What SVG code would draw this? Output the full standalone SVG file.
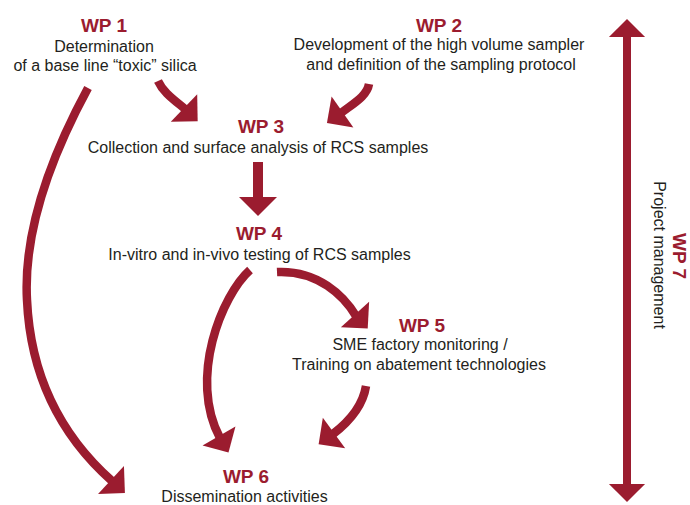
<svg xmlns="http://www.w3.org/2000/svg" xmlns:xlink="http://www.w3.org/1999/xlink" width="690" height="505" viewBox="0 0 690 505">
  <style>
    .wp { font-family: "Liberation Sans", Arial, sans-serif; font-weight: bold; font-size: 19px; fill: #9b1c2f; text-anchor: middle; }
    .t { font-family: "Liberation Sans", Arial, sans-serif; font-size: 16px; fill: #231f20; text-anchor: middle; }
    .shaft { fill: none; stroke: #9b1c2f; stroke-width: 8.5; stroke-linecap: butt; }
    .head { fill: #9b1c2f; }
  </style>
  <defs>
    <path id="head" d="M0,-19 L19,0 L0,19 Z"/>
  </defs>
  <rect width="690" height="505" fill="#ffffff"/>

  <g id="wp1">
    <text class="wp" x="104" y="32">WP 1</text>
    <text class="t" x="104" y="52">Determination</text>
    <text class="t" x="105" y="71">of a base line “toxic” silica</text>
  </g>
  <g id="wp2">
    <text class="wp" x="439" y="32">WP 2</text>
    <text class="t" x="439" y="50">Development of the high volume sampler</text>
    <text class="t" x="441" y="69.5">and definition of the sampling protocol</text>
  </g>
  <g id="wp3">
    <text class="wp" x="261" y="132.5">WP 3</text>
    <text class="t" x="258" y="152.5">Collection and surface analysis of RCS samples</text>
  </g>
  <g id="wp4">
    <text class="wp" x="259" y="240">WP 4</text>
    <text class="t" x="259.5" y="259.5">In-vitro and in-vivo testing of RCS samples</text>
  </g>
  <g id="wp5">
    <text class="wp" x="422" y="331.5">WP 5</text>
    <text class="t" x="420" y="350">SME factory monitoring /</text>
    <text class="t" x="419" y="370">Training on abatement technologies</text>
  </g>
  <g id="wp6">
    <text class="wp" x="246" y="482.5">WP 6</text>
    <text class="t" x="244.5" y="501.5">Dissemination activities</text>
  </g>
  <g id="wp7">
    <text class="wp" transform="translate(673,256) rotate(90)">WP 7</text>
    <text class="t" transform="translate(654,255) rotate(90)">Project management</text>
  </g>

  <g id="connectors">
    <!-- WP1 -> WP3 -->
    <path class="shaft" d="M158,81 C163,92 173,99 185,109"/>
    <use href="#head" xlink:href="#head" class="head" transform="translate(184,108) rotate(44)"/>
    <!-- WP2 -> WP3 -->
    <path class="shaft" d="M369,84 C367,96 354,103 341,113"/>
    <use href="#head" xlink:href="#head" class="head" transform="translate(342.5,112) rotate(145)"/>
    <!-- WP3 -> WP4 -->
    <path class="shaft" style="stroke-width:10" d="M258,162 V199"/>
    <use href="#head" xlink:href="#head" class="head" transform="translate(258,197) rotate(90)"/>
    <!-- WP4 -> WP6 -->
    <path class="shaft" d="M250,270 C222,295 188,378 220,438"/>
    <use href="#head" xlink:href="#head" class="head" transform="translate(219,436) rotate(60)"/>
    <!-- WP4 -> WP5 -->
    <path class="shaft" d="M277,272 C318,270 344,296 356,316"/>
    <use href="#head" xlink:href="#head" class="head" transform="translate(355,314.5) rotate(48)"/>
    <!-- WP5 -> WP6 -->
    <path class="shaft" d="M366,386 C363,405 350,421 333,434"/>
    <use href="#head" xlink:href="#head" class="head" transform="translate(334,433) rotate(144)"/>
    <!-- WP1 -> WP6 -->
    <path class="shaft" d="M88,88 Q22,210 27,300 Q32,410 112,481"/>
    <use href="#head" xlink:href="#head" class="head" transform="translate(111,480) rotate(43)"/>
    <!-- WP7 double arrow -->
    <path class="shaft" style="stroke-width:8" d="M627,34 V486"/>
    <use href="#head" xlink:href="#head" class="head" transform="translate(627,37) rotate(-90) scale(0.95)"/>
    <use href="#head" xlink:href="#head" class="head" transform="translate(627,484) rotate(90) scale(0.95)"/>
  </g>
</svg>
